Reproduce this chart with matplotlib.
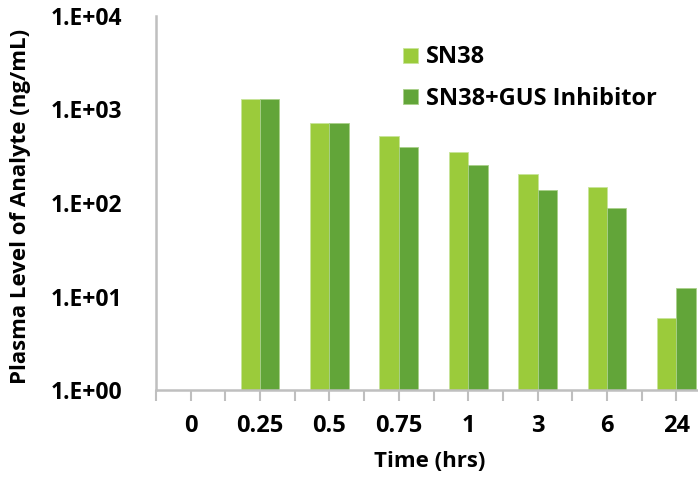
import matplotlib
matplotlib.use("Agg")
import matplotlib.pyplot as plt
import numpy as np

categories = ["0", "0.25", "0.5", "0.75", "1", "3", "6", "24"]
sn38 = [np.nan, 1300, 720, 520, 350, 206, 148, 5.9]
sn38_gus = [np.nan, 1300, 720, 397, 253, 139, 88, 12.2]
series_names = ["SN38", "SN38+GUS Inhibitor"]
colors = ["#9BCB3B", "#62A539"]

plt.rcParams['font.family'] = ['Open Sans', 'DejaVu Sans']
plt.rcParams['font.weight'] = 'bold'

fig = plt.figure(figsize=(6.98, 4.83), dpi=100)
ax = fig.add_axes([156/698, 1 - 390/483, (711 - 156)/698, (390 - 16)/483])

x = np.arange(len(categories))
w = 0.28
ax.bar(x - w/2, sn38, width=w, color=colors[0], edgecolor="#C8E49A", linewidth=0.6, label=series_names[0])
ax.bar(x + w/2, sn38_gus, width=w, color=colors[1], edgecolor="#A9D08A", linewidth=0.6, label=series_names[1])

ax.set_yscale('log')
ax.set_ylim(1, 1e4)
ax.set_xlim(-0.5, 7.5)
ax.set_yticks([1, 10, 100, 1000, 10000])
ax.set_yticklabels(["1.E+00", "1.E+01", "1.E+02", "1.E+03", "1.E+04"])
ax.yaxis.set_minor_locator(matplotlib.ticker.NullLocator())
ax.tick_params(axis='y', length=0, pad=24, labelsize=16.5)

ax.set_xticks(x)
ax.set_xticklabels(categories)
ax.set_xticks(np.arange(-0.5, 7.6, 1.0), minor=True)
ax.tick_params(axis='x', which='both', length=8, width=1.5, color="#BFBFBF", direction='out', labelsize=17, pad=9)

for s in ['top', 'right']:
    ax.spines[s].set_visible(False)
for s in ['left', 'bottom']:
    ax.spines[s].set_color("#BFBFBF")
    ax.spines[s].set_linewidth(1.8)

ax.set_xlabel("Time (hrs)", fontsize=16, fontweight='bold')
ax.xaxis.set_label_coords((430 - 156)/555, -(451 - 390)/374)
ax.set_ylabel("Plasma Level of Analyte (ng/mL)", fontsize=16, fontweight='bold', va='center')
ax.yaxis.set_label_coords(-(156 - 21)/555, (390 - 206)/374)

ax.legend(loc='upper left', frameon=False, fontsize=17, handlelength=0.6, handleheight=0.6,
          handletextpad=0.35, labelspacing=0.75, borderaxespad=0,
          bbox_to_anchor=(394/698, 1 - 36/483), bbox_transform=fig.transFigure)

fig.savefig("out.png", dpi=100)
